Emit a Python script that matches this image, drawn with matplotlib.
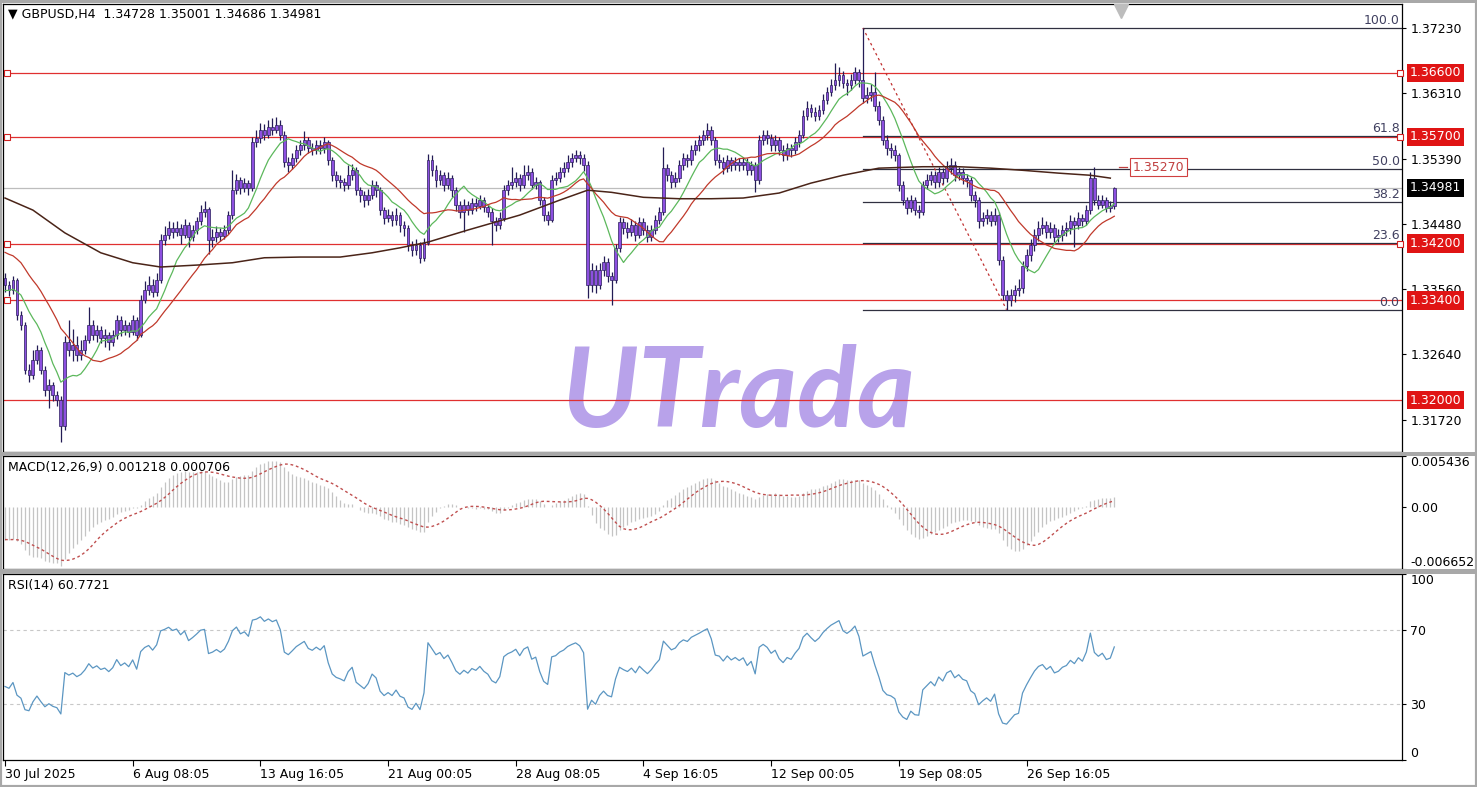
import numpy as np
import matplotlib
matplotlib.use("Agg")
import matplotlib.pyplot as plt
from matplotlib.patches import Rectangle

W, H = 1477, 787

# GBPUSD H4 candles (30 Jul - 2 Oct 2025)
first_open = 1.3372
close = [
    1.3362, 1.3355, 1.3369, 1.3319, 1.3305, 1.3242, 1.3235, 1.3256, 1.3270, 1.3242,
    1.3214, 1.3221, 1.3207, 1.3200, 1.3164, 1.3281, 1.3270, 1.3277, 1.3263, 1.3270,
    1.3284, 1.3305, 1.3291, 1.3298, 1.3287, 1.3291, 1.3281, 1.3291, 1.3313, 1.3298,
    1.3305, 1.3296, 1.3313, 1.3291, 1.3341, 1.3355, 1.3362, 1.3352, 1.3369, 1.3425,
    1.3432, 1.3442, 1.3436, 1.3442, 1.3432, 1.3446, 1.3429, 1.3439, 1.3451, 1.3465,
    1.3468, 1.3425, 1.3429, 1.3436, 1.3431, 1.3439, 1.3460, 1.3495, 1.3509, 1.3498,
    1.3505, 1.3498, 1.3563, 1.3568, 1.3580, 1.3573, 1.3584, 1.3580, 1.3587, 1.3573,
    1.3535, 1.3530, 1.3540, 1.3551, 1.3558, 1.3565, 1.3554, 1.3551, 1.3558, 1.3554,
    1.3563, 1.3537, 1.3516, 1.3509, 1.3506, 1.3502, 1.3516, 1.3523, 1.3495, 1.3488,
    1.3481, 1.3488, 1.3502, 1.3495, 1.3467, 1.3456, 1.3460, 1.3453, 1.3460, 1.3446,
    1.3442, 1.3418, 1.3411, 1.3418, 1.3400, 1.3421, 1.3537, 1.3523, 1.3509, 1.3516,
    1.3502, 1.3512, 1.3495, 1.3474, 1.3465, 1.3474, 1.3467, 1.3477, 1.3473, 1.3481,
    1.3471, 1.3465, 1.3451, 1.3446, 1.3456, 1.3495, 1.3502, 1.3506, 1.3512, 1.3502,
    1.3516, 1.3521, 1.3502, 1.3506, 1.3481, 1.3460, 1.3453, 1.3509, 1.3512, 1.3521,
    1.3526, 1.3535, 1.3540, 1.3544, 1.3540, 1.3530, 1.3362, 1.3383, 1.3362, 1.3383,
    1.3394, 1.3375, 1.3369, 1.3414, 1.3450, 1.3442, 1.3436, 1.3446, 1.3432, 1.3450,
    1.3439, 1.3429, 1.3439, 1.3453, 1.3465, 1.3526, 1.3516, 1.3506, 1.3512, 1.3530,
    1.3540, 1.3537, 1.3551, 1.3558, 1.3565, 1.3573, 1.3580, 1.3565, 1.3537, 1.3535,
    1.3526, 1.3537, 1.3530, 1.3535, 1.3530, 1.3535, 1.3523, 1.3530, 1.3509, 1.3565,
    1.3573, 1.3568, 1.3558, 1.3565, 1.3551, 1.3544, 1.3554, 1.3551, 1.3563, 1.3573,
    1.3600, 1.3611, 1.3605, 1.3600, 1.3608, 1.3622, 1.3633, 1.3643, 1.3650, 1.3657,
    1.3646, 1.3643, 1.3650, 1.3661, 1.3650, 1.3625, 1.3629, 1.3633, 1.3614, 1.3594,
    1.3565, 1.3554, 1.3551, 1.3544, 1.3502, 1.3481, 1.3470, 1.3481, 1.3467, 1.3465,
    1.3502, 1.3509, 1.3516, 1.3506, 1.3521, 1.3512, 1.3526, 1.3530, 1.3516, 1.3521,
    1.3512, 1.3509, 1.3488, 1.3481, 1.3451, 1.3456, 1.3460, 1.3451, 1.3460, 1.3397,
    1.3348, 1.3341, 1.3348, 1.3355, 1.3357, 1.3389, 1.3404, 1.3418, 1.3432, 1.3442,
    1.3446, 1.3436, 1.3442, 1.3429, 1.3432, 1.3439, 1.3442, 1.3451, 1.3446, 1.3456,
    1.3451, 1.3467, 1.3512, 1.3481, 1.3474, 1.3481, 1.3470, 1.3473, 1.3498,
]
high = [
    1.3378, 1.3368, 1.3375, 1.3372, 1.3325, 1.3310, 1.3250, 1.3270, 1.3278, 1.3275,
    1.3248, 1.3230, 1.3226, 1.3212, 1.3205, 1.3290, 1.3313, 1.3300, 1.3290, 1.3285,
    1.3292, 1.3331, 1.3312, 1.3306, 1.3304, 1.3300, 1.3296, 1.3298, 1.3320, 1.3318,
    1.3312, 1.3310, 1.3320, 1.3317, 1.3348, 1.3368, 1.3375, 1.3370, 1.3378, 1.3433,
    1.3445, 1.3452, 1.3450, 1.3452, 1.3448, 1.3454, 1.3450, 1.3446, 1.3458, 1.3474,
    1.3480, 1.3472, 1.3440, 1.3445, 1.3442, 1.3446, 1.3466, 1.3523, 1.3518, 1.3514,
    1.3512, 1.3510, 1.3570, 1.3580, 1.3590, 1.3588, 1.3594, 1.3596, 1.3598, 1.3594,
    1.3578, 1.3542, 1.3548, 1.3558, 1.3565, 1.3578, 1.3570, 1.3562, 1.3566, 1.3566,
    1.3570, 1.3566, 1.3542, 1.3522, 1.3516, 1.3512, 1.3530, 1.3532, 1.3528, 1.3500,
    1.3494, 1.3496, 1.3510, 1.3508, 1.3500, 1.3472, 1.3468, 1.3466, 1.3470, 1.3465,
    1.3452, 1.3446, 1.3424, 1.3426, 1.3422, 1.3428, 1.3546, 1.3545, 1.3530, 1.3524,
    1.3520, 1.3520, 1.3516, 1.3500, 1.3480, 1.3482, 1.3480, 1.3484, 1.3484, 1.3488,
    1.3486, 1.3476, 1.3470, 1.3458, 1.3464, 1.3502, 1.3510, 1.3528, 1.3520, 1.3518,
    1.3530, 1.3530, 1.3526, 1.3514, 1.3510, 1.3486, 1.3466, 1.3516, 1.3520, 1.3528,
    1.3534, 1.3544, 1.3548, 1.3552, 1.3550, 1.3546, 1.3536, 1.3392, 1.3390, 1.3392,
    1.3402, 1.3400, 1.3380, 1.3420, 1.3458, 1.3456, 1.3450, 1.3454, 1.3452, 1.3458,
    1.3456, 1.3446, 1.3446, 1.3460, 1.3472, 1.3556, 1.3532, 1.3522, 1.3520, 1.3538,
    1.3548, 1.3546, 1.3558, 1.3566, 1.3572, 1.3580, 1.3589, 1.3585, 1.3570, 1.3546,
    1.3542, 1.3544, 1.3542, 1.3542, 1.3540, 1.3542, 1.3540, 1.3536, 1.3534, 1.3572,
    1.3580, 1.3580, 1.3574, 1.3572, 1.3570, 1.3558, 1.3562, 1.3560, 1.3570, 1.3580,
    1.3608, 1.3620, 1.3616, 1.3612, 1.3615, 1.3630, 1.3640, 1.3652, 1.3674, 1.3668,
    1.3662, 1.3652, 1.3658, 1.3668, 1.3666, 1.3723, 1.3640, 1.3644, 1.3661, 1.3620,
    1.3600, 1.3572, 1.3562, 1.3558, 1.3548, 1.3508, 1.3486, 1.3488, 1.3486, 1.3474,
    1.3508, 1.3518, 1.3522, 1.3522, 1.3528, 1.3526, 1.3536, 1.3540, 1.3536, 1.3528,
    1.3526, 1.3518, 1.3514, 1.3494, 1.3486, 1.3464, 1.3468, 1.3466, 1.3470, 1.3464,
    1.3402, 1.3354, 1.3356, 1.3362, 1.3370, 1.3396, 1.3412, 1.3426, 1.3440, 1.3452,
    1.3458, 1.3452, 1.3450, 1.3448, 1.3440, 1.3446, 1.3450, 1.3460, 1.3458, 1.3464,
    1.3462, 1.3474, 1.3520, 1.3528, 1.3488, 1.3488, 1.3486, 1.3480, 1.3500,
]
low = [
    1.3352, 1.3346, 1.3349, 1.3312, 1.3298, 1.3236, 1.3226, 1.3230, 1.3250, 1.3236,
    1.3205, 1.3189, 1.3198, 1.3192, 1.3141, 1.3158, 1.3262, 1.3255, 1.3255, 1.3256,
    1.3264, 1.3280, 1.3284, 1.3282, 1.3280, 1.3275, 1.3270, 1.3276, 1.3286, 1.3290,
    1.3292, 1.3288, 1.3291, 1.3284, 1.3288, 1.3336, 1.3348, 1.3345, 1.3346, 1.3365,
    1.3418, 1.3426, 1.3428, 1.3430, 1.3420, 1.3428, 1.3415, 1.3424, 1.3434, 1.3446,
    1.3458, 1.3405, 1.3415, 1.3422, 1.3424, 1.3426, 1.3434, 1.3455, 1.3490, 1.3490,
    1.3492, 1.3488, 1.3494, 1.3556, 1.3562, 1.3565, 1.3568, 1.3572, 1.3575, 1.3565,
    1.3528, 1.3520, 1.3525, 1.3535, 1.3545, 1.3552, 1.3548, 1.3544, 1.3546, 1.3546,
    1.3548, 1.3530, 1.3508, 1.3500, 1.3498, 1.3494, 1.3496, 1.3510, 1.3488, 1.3478,
    1.3472, 1.3474, 1.3482, 1.3486, 1.3460, 1.3448, 1.3450, 1.3444, 1.3446, 1.3436,
    1.3430, 1.3410, 1.3402, 1.3404, 1.3393, 1.3396, 1.3418, 1.3515, 1.3500, 1.3502,
    1.3494, 1.3496, 1.3486, 1.3466, 1.3456, 1.3436, 1.3460, 1.3462, 1.3466, 1.3468,
    1.3464, 1.3458, 1.3418, 1.3438, 1.3440, 1.3452, 1.3488, 1.3496, 1.3500, 1.3494,
    1.3498, 1.3510, 1.3496, 1.3496, 1.3474, 1.3452, 1.3446, 1.3450, 1.3502, 1.3506,
    1.3514, 1.3520, 1.3528, 1.3534, 1.3532, 1.3522, 1.3343, 1.3352, 1.3350, 1.3356,
    1.3374, 1.3366, 1.3333, 1.3364, 1.3408, 1.3434, 1.3428, 1.3430, 1.3424, 1.3428,
    1.3432, 1.3422, 1.3424, 1.3434, 1.3448, 1.3460, 1.3508, 1.3498, 1.3500, 1.3506,
    1.3524, 1.3528, 1.3530, 1.3544, 1.3550, 1.3558, 1.3566, 1.3558, 1.3530, 1.3526,
    1.3518, 1.3520, 1.3522, 1.3524, 1.3522, 1.3524, 1.3516, 1.3516, 1.3493, 1.3504,
    1.3558, 1.3560, 1.3550, 1.3550, 1.3544, 1.3536, 1.3538, 1.3542, 1.3546, 1.3556,
    1.3568, 1.3594, 1.3598, 1.3592, 1.3594, 1.3602, 1.3616, 1.3628, 1.3636, 1.3642,
    1.3638, 1.3629, 1.3636, 1.3644, 1.3640, 1.3618, 1.3618, 1.3620, 1.3606, 1.3586,
    1.3558, 1.3544, 1.3540, 1.3536, 1.3494, 1.3474, 1.3462, 1.3464, 1.3460, 1.3456,
    1.3460, 1.3496, 1.3502, 1.3498, 1.3500, 1.3504, 1.3506, 1.3518, 1.3508, 1.3510,
    1.3504, 1.3500, 1.3480, 1.3472, 1.3442, 1.3444, 1.3448, 1.3444, 1.3446, 1.3390,
    1.3340, 1.3327, 1.3332, 1.3338, 1.3346, 1.3350, 1.3382, 1.3396, 1.3410, 1.3424,
    1.3434, 1.3428, 1.3428, 1.3422, 1.3422, 1.3424, 1.3430, 1.3434, 1.3415, 1.3440,
    1.3444, 1.3446, 1.3462, 1.3474, 1.3468, 1.3470, 1.3464, 1.3465, 1.3469,
]

# slow moving average (dark brown line), read at a handful of bars
slow_ma_bar = [0, 7, 15, 24, 32, 39, 49, 57, 65, 74, 84, 92, 99, 106, 116, 129, 139,
               146, 152, 160, 169, 177, 185, 194, 202, 210, 219, 230, 239, 247, 255,
               264, 272, 277]
slow_ma = [1.3484, 1.3467, 1.3435, 1.3407, 1.3393, 1.3387, 1.3390, 1.3393, 1.3400,
           1.3401, 1.3401, 1.3407, 1.3414, 1.3422, 1.3439, 1.3460, 1.3481, 1.3495,
           1.3492, 1.3485, 1.3483, 1.3483, 1.3484, 1.3491, 1.3505, 1.3516, 1.3526,
           1.3528, 1.3528, 1.3526, 1.3523, 1.3519, 1.3516, 1.3512]

# indicator state just before the first visible bar (read from the left edge)
fast_ma_prior = 1.3353
mid_ma_prior = 1.3410
ema12_prior = 1.3398
ema26_prior = 1.3433
signal_prior = -0.0035
rsi_gain_prior = 0.0009
rsi_loss_prior = 0.0013

levels = [1.36600, 1.35700, 1.34200, 1.33400, 1.32000]
fib_high, fib_low = 1.3723, 1.3327
fib_high_bar, fib_low_bar = 215, 251
fib_ratios = [0.0, 23.6, 38.2, 50.0, 61.8, 100.0]
label_price = 1.35270
last_price = 1.34981

price_ticks = [1.37230, 1.36310, 1.35390, 1.34480, 1.33560, 1.32640, 1.31720]
date_ticks = [0, 32, 64, 96, 128, 160, 192, 224, 256]
date_labels = ["30 Jul 2025", "6 Aug 08:05", "13 Aug 16:05", "21 Aug 00:05",
               "28 Aug 08:05", "4 Sep 16:05", "12 Sep 00:05", "19 Sep 08:05",
               "26 Sep 16:05"]

plt.rcParams["font.family"] = ["DejaVu Sans"]

c = np.array(close)
hi = np.array(high)
lo = np.array(low)
o = np.concatenate([[first_open], c[:-1]])
x = np.arange(len(c))


def sma(values, n, prior):
    padded = np.concatenate([np.full(n - 1, prior), values])
    return np.convolve(padded, np.ones(n) / n, mode="valid")


def ema(values, n, prior):
    k = 2.0 / (n + 1)
    out = np.empty(len(values))
    v = prior
    for i, p in enumerate(values):
        v = v + k * (p - v)
        out[i] = v
    return out


fast_ma = sma(c, 10, fast_ma_prior)
mid_ma = sma(c, 20, mid_ma_prior)
macd = ema(c, 12, ema12_prior) - ema(c, 26, ema26_prior)
signal = sma(macd, 9, signal_prior)

gain, loss = rsi_gain_prior, rsi_loss_prior
rsi = []
for d in np.diff(np.concatenate([[first_open], c])):
    gain = (gain * 13 + max(d, 0)) / 14
    loss = (loss * 13 + max(-d, 0)) / 14
    rsi.append(100 - 100 / (1 + gain / loss))


def rect(x0, y0, x1, y1):
    return [x0 / W, 1 - y1 / H, (x1 - x0) / W, (y1 - y0) / H]


fig = plt.figure(figsize=(W / 100, H / 100), dpi=100)
fig.patch.set_facecolor("white")
ax = fig.add_axes(rect(3, 4, 1402, 452))
ax_macd = fig.add_axes(rect(3, 456, 1402, 569))
ax_rsi = fig.add_axes(rect(3, 574, 1402, 760))

# panel separators / outer frame
for y0, y1 in [(0, 3), (452, 456), (569, 574)]:
    fig.add_artist(Rectangle((0, 1 - y1 / H), 1, (y1 - y0) / H, transform=fig.transFigure,
                             facecolor="#a8a8a8", edgecolor="none"))
fig.add_artist(Rectangle((0, 0), 1, 1, transform=fig.transFigure, fill=False,
                         edgecolor="#a8a8a8", lw=3))

xmin, xmax = -0.5, 350.1
for a in (ax, ax_macd, ax_rsi):
    a.set_xlim(xmin, xmax)
    for s in a.spines.values():
        s.set_color("black")
        s.set_linewidth(0.9)
    a.yaxis.tick_right()
    a.tick_params(axis="y", direction="out", length=3, width=0.8, labelsize=9, pad=3)
    a.tick_params(axis="x", bottom=False, labelbottom=False)

# ---- main price panel
ax.set_ylim(1.31269, 1.37568)
ax.set_yticks(price_ticks)
ax.set_yticklabels([f"{p:.5f}" for p in price_ticks])

ax.text(183.7, 1.3207, "UTrada", fontsize=80, family="Lato", weight="bold",
        style="italic", color="#b8a2ea", ha="center", va="center", zorder=0.5)

for lv in levels:
    ax.axhline(lv, color="#e03030", lw=0.9, zorder=1)
for lv in levels[:4]:
    ax.plot([0.5], [lv], marker="s", ms=4, mfc="white", mec="#d02020", mew=0.8, zorder=4)
for lv in levels[:3]:
    ax.plot([349.6], [lv], marker="s", ms=4, mfc="white", mec="#d02020", mew=0.8,
            zorder=4, clip_on=False)
ax.axhline(last_price, color="#bdbdbd", lw=0.9, zorder=1)

fib_span = fib_high - fib_low
for r in fib_ratios:
    lv = fib_low + r / 100 * fib_span
    ax.plot([fib_high_bar, xmax], [lv, lv], color="#303040", lw=0.9, zorder=1.5)
    ax.text(349.5, lv + 0.00012, f"{r:.1f}", ha="right", va="bottom", fontsize=9,
            color="#404060", zorder=3)
ax.plot([fib_high_bar, fib_low_bar], [fib_high, fib_low], color="#c03030", lw=0.9,
        ls=(0, (2, 2.5)), zorder=2)

# candles
ax.vlines(x, lo, hi, color="#231c55", lw=0.9, zorder=2)
body_lo = np.minimum(o, c)
body_h = np.maximum(np.abs(c - o), 0.00006)
ax.bar(x, body_h, bottom=body_lo, width=0.72, color="#8d4fe0", edgecolor="#2a1f5c",
       lw=0.5, zorder=2.2)

ax.plot(x, fast_ma, color="#5cb85c", lw=0.9, zorder=3)
ax.plot(x, mid_ma, color="#c0392b", lw=0.9, zorder=3)
ax.plot(slow_ma_bar, slow_ma, color="#4a2418", lw=1.1, zorder=3)

# price label on the 50% level
ax.plot([279.3, 281.3], [label_price, label_price], color="#c04040", lw=0.9, zorder=3)
ax.text(282.6, label_price, f"{label_price:.5f}", ha="left", va="center", fontsize=9,
        color="#c04040", zorder=4,
        bbox=dict(boxstyle="square,pad=0.2", facecolor="white", edgecolor="#d04040", lw=0.8))

# right-hand price boxes
ytr = ax.get_yaxis_transform()
for lv in levels:
    ax.text(1.0057, lv, f"{lv:.5f}", transform=ytr, ha="left", va="center", fontsize=9,
            color="white", zorder=5, clip_on=False,
            bbox=dict(boxstyle="square,pad=0.22", facecolor="#e01414", edgecolor="none"))
ax.text(1.0057, last_price, f"{last_price:.5f}", transform=ytr, ha="left", va="center",
        fontsize=9, color="white", zorder=5, clip_on=False,
        bbox=dict(boxstyle="square,pad=0.22", facecolor="black", edgecolor="none"))

ax.plot([279.7], [0.985], marker="v", ms=10, color="#bdbdbd", transform=ax.get_xaxis_transform(),
        clip_on=False, zorder=4)
ax.text(0.0036, 0.977, "\u25bc GBPUSD,H4  1.34728 1.35001 1.34686 1.34981",
        transform=ax.transAxes, ha="left", va="center", fontsize=9, color="black")

# ---- MACD panel
ax_macd.set_ylim(-0.006652, 0.005436)
ax_macd.vlines(x, 0, macd, color="#c4c4c4", lw=0.9)
ax_macd.plot(x, signal, color="#c05050", lw=1.0, ls=(0, (2, 2)))
ax_macd.set_yticks([0.005436, 0.0, -0.006652])
ax_macd.set_yticklabels(["0.005436", "0.00", "-0.006652"])
tl = ax_macd.get_yticklabels()
tl[0].set_va("top")
tl[2].set_va("bottom")
ax_macd.text(0.0036, 0.90, "MACD(12,26,9) 0.001218 0.000706", transform=ax_macd.transAxes,
             ha="left", va="center", fontsize=9)

# ---- RSI panel
ax_rsi.set_ylim(0, 100)
for lv in (30, 70):
    ax_rsi.axhline(lv, color="#c8c8c8", lw=0.8, ls=(0, (3, 3)))
ax_rsi.plot(x, rsi, color="#5b96c2", lw=0.9)
ax_rsi.set_yticks([100, 70, 30, 0])
ax_rsi.set_yticklabels(["100", "70", "30", "0"])
tl = ax_rsi.get_yticklabels()
tl[0].set_va("top")
tl[3].set_va("bottom")
ax_rsi.text(0.0036, 0.94, "RSI(14) 60.7721", transform=ax_rsi.transAxes,
            ha="left", va="center", fontsize=9)
ax_rsi.set_xticks(date_ticks)
ax_rsi.set_xticklabels(date_labels, ha="left")
ax_rsi.tick_params(axis="x", bottom=True, labelbottom=True, direction="out", length=4,
                   width=0.8, labelsize=9, pad=2)

fig.savefig("out.png", dpi=100)
